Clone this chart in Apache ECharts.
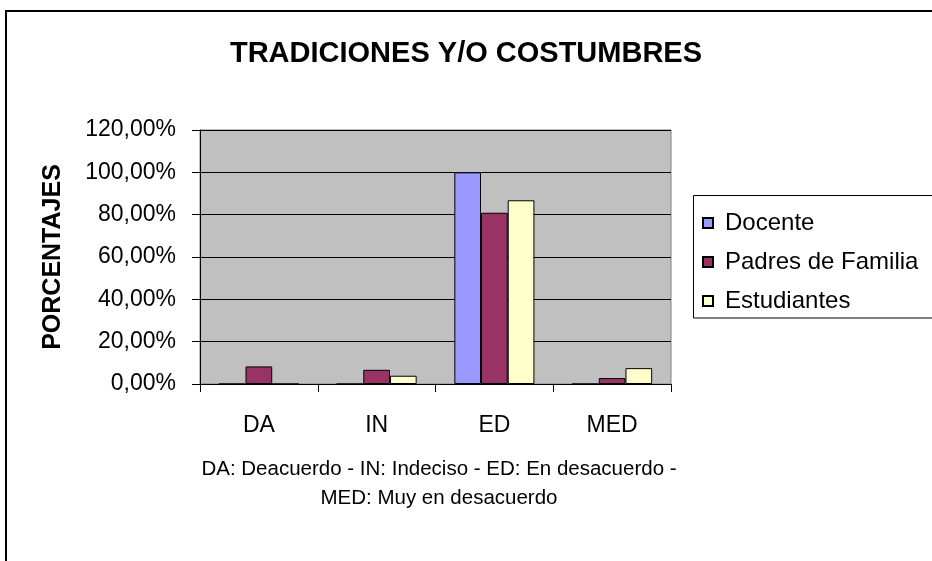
<!DOCTYPE html>
<html>
<head>
<meta charset="utf-8">
<script src="https://cdn.jsdelivr.net/npm/echarts@6/dist/echarts.min.js"></script>
<style>
  html, body { margin: 0; padding: 0; background: #fff; }
  #chart { width: 932px; height: 561px; }
</style>
</head>
<body>
<div id="chart"></div>
<script>
// datos
const categorias = ['DA', 'IN', 'ED', 'MED'];
const docente = [0, 0, 100, 0];
const padres = [8.3, 6.7, 80.9, 2.8];
const estudiantes = [0, 3.9, 86.8, 7.5];
const yTicks = [0, 20, 40, 60, 80, 100, 120];

const fuente = "'Liberation Sans', Arial, sans-serif";

let myChart = echarts.init(document.getElementById('chart'));
let option = {
  backgroundColor: '#fff',
  title: {
    text: 'TRADICIONES Y/O COSTUMBRES',
    left: 'center',
    top: 34,
    textStyle: { fontFamily: fuente, fontSize: 29, fontWeight: 'bold', color: '#000' }
  },
  legend: {
    orient: 'vertical',
    left: 702,
    top: 211,
    z: 5,
    padding: 0,
    itemWidth: 10,
    itemHeight: 10,
    itemGap: 15,
    icon: 'rect',
    textStyle: { fontFamily: fuente, fontSize: 24, color: '#000', padding: [0, 0, 0, 7] },
    data: ['Docente', 'Padres de Familia', 'Estudiantes']
  },
  graphic: [
    {
      type: 'rect', z: -10, silent: true,
      shape: { x: 6, y: 11, width: 1000, height: 1000 },
      style: { fill: 'none', stroke: '#000', lineWidth: 2 }
    },
    {
      type: 'rect', z: 1, silent: true,
      shape: { x: 693.5, y: 195.5, width: 260, height: 122.5 },
      style: { fill: '#fff', stroke: '#000', lineWidth: 1 }
    },
    {
      type: 'text', silent: true,
      x: 439, y: 455,
      style: {
        text: 'DA: Deacuerdo - IN: Indeciso - ED: En desacuerdo -\nMED: Muy en desacuerdo',
        font: '20.5px ' + fuente,
        fill: '#000',
        align: 'center',
        textAlign: 'center',
        verticalAlign: 'top',
        lineHeight: 29
      }
    }
  ],
  grid: {
    left: 200,
    right: 261,
    top: 130,
    bottom: 177,
    show: true,
    backgroundColor: '#c0c0c0',
    borderColor: '#808080',
    borderWidth: 1
  },
  xAxis: {
    type: 'category',
    data: categorias,
    axisLine: { lineStyle: { color: '#000', width: 1 } },
    axisTick: { show: true, length: 8, lineStyle: { color: '#000' } },
    axisLabel: { margin: 30, fontFamily: fuente, fontSize: 23, color: '#000' },
    splitLine: { show: false }
  },
  yAxis: {
    type: 'value',
    min: yTicks[0],
    max: yTicks[yTicks.length - 1],
    interval: 20,
    name: 'PORCENTAJES',
    nameLocation: 'middle',
    nameGap: 134,
    nameTextStyle: { fontFamily: fuente, fontSize: 25, fontWeight: 'bold', color: '#000' },
    axisLine: { show: true, lineStyle: { color: '#000', width: 1 } },
    axisTick: { show: true, length: 8, lineStyle: { color: '#000' } },
    axisLabel: {
      margin: 24,
      fontFamily: fuente,
      fontSize: 23,
      color: '#000',
      formatter: function (v) { return v.toFixed(2).replace('.', ',') + '%'; }
    },
    splitLine: { show: true, lineStyle: { color: '#000', width: 1 } }
  },
  series: [
    {
      name: 'Docente',
      type: 'bar',
      data: docente,
      barGap: '0%',
      barCategoryGap: '32%',
      itemStyle: { color: '#9999ff', borderColor: '#000', borderWidth: 1 }
    },
    {
      name: 'Padres de Familia',
      type: 'bar',
      data: padres,
      itemStyle: { color: '#993366', borderColor: '#000', borderWidth: 1 }
    },
    {
      name: 'Estudiantes',
      type: 'bar',
      data: estudiantes,
      itemStyle: { color: '#ffffcc', borderColor: '#000', borderWidth: 1 }
    }
  ]
};
myChart.setOption(option);
</script>
</body>
</html>
